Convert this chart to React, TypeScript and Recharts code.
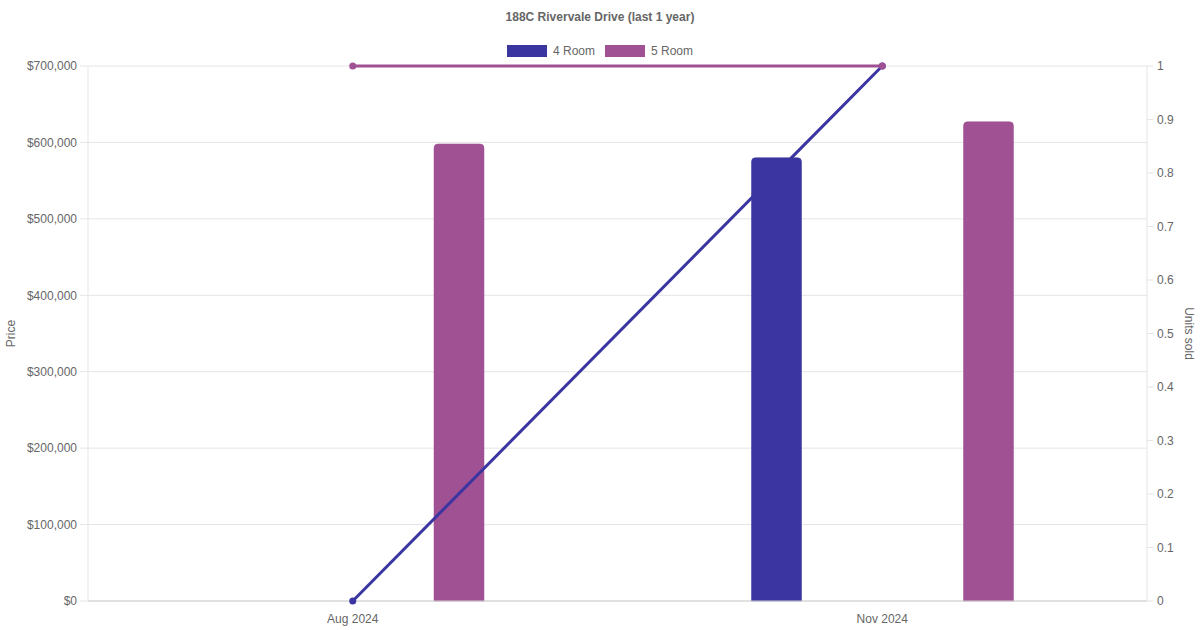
import {
  ComposedChart,
  Bar,
  Line,
  XAxis,
  YAxis,
  CartesianGrid,
} from 'recharts';

const FONT = '"Liberation Sans", Arial, Helvetica, sans-serif';
const TEXT = '#666666';

const months = ['Aug 2024', 'Nov 2024'];
const price4Room = [null, 580000];
const price5Room = [598000, 627000];
const units4Room = [0, 1];
const units5Room = [1, 1];

const priceTicks = [0, 100000, 200000, 300000, 400000, 500000, 600000, 700000];
const unitTicks = [0, 0.1, 0.2, 0.3, 0.4, 0.5, 0.6, 0.7, 0.8, 0.9, 1];

const SERIES = [
  { name: '4 Room', color: '#3a35a0' },
  { name: '5 Room', color: '#a05193' },
];

const data = months.map((month, i) => ({
  month,
  price4: price4Room[i],
  price5: price5Room[i],
  units4: units4Room[i],
  units5: units5Room[i],
}));

const formatPrice = (v: number) => '$' + v.toLocaleString('en-US');

export default function App() {
  return (
    <div style={{ position: 'absolute', left: 0, top: 0, width: 1200, height: 630, fontFamily: FONT, background: '#fff' }}>
      <div
        style={{
          position: 'absolute',
          top: 9,
          width: 1200,
          textAlign: 'center',
          fontSize: 12,
          fontWeight: 'bold',
          color: TEXT,
          lineHeight: '16px',
        }}
      >
        188C Rivervale Drive (last 1 year)
      </div>
      <div
        style={{
          position: 'absolute',
          top: 43,
          width: 1200,
          display: 'flex',
          justifyContent: 'center',
          fontSize: 12,
          color: TEXT,
          lineHeight: '16px',
        }}
      >
        {SERIES.map((s) => (
          <div key={s.name} style={{ display: 'flex', alignItems: 'center', margin: '0 5px' }}>
            <div style={{ width: 40, height: 12, background: s.color, marginRight: 6 }} />
            <span>{s.name}</span>
          </div>
        ))}
      </div>
      <ComposedChart
        width={1200}
        height={630}
        data={data}
        margin={{ top: 66, right: 0, bottom: 0, left: 0 }}
        barGap={162}
        style={{ fontFamily: FONT }}
      >
        <CartesianGrid vertical={false} stroke="#e5e5e5" yAxisId="price" />
        <XAxis
          dataKey="month"
          height={29}
          tickLine={false}
          tickSize={0}
          tickMargin={13}
          axisLine={{ stroke: '#cfcfcf' }}
          tick={{ fill: TEXT, fontSize: 12 }}
        />
        <YAxis
          yAxisId="price"
          orientation="left"
          width={88}
          domain={[0, 700000]}
          ticks={priceTicks}
          tickFormatter={formatPrice}
          tickSize={8}
          tickMargin={3}
          axisLine={{ stroke: '#e5e5e5' }}
          tickLine={{ stroke: '#e5e5e5' }}
          tick={{ fill: TEXT, fontSize: 12 }}
          label={{ value: 'Price', angle: -90, position: 'center', dx: -33, fill: TEXT, fontSize: 12 }}
        />
        <YAxis
          yAxisId="units"
          orientation="right"
          width={53}
          domain={[0, 1]}
          ticks={unitTicks}
          tickSize={6}
          tickMargin={4}
          axisLine={{ stroke: '#e5e5e5' }}
          tickLine={{ stroke: '#e5e5e5' }}
          tick={{ fill: TEXT, fontSize: 12 }}
          label={{ value: 'Units sold', angle: 90, position: 'center', dx: 16, fill: TEXT, fontSize: 12 }}
        />
        <Bar
          yAxisId="price"
          dataKey="price4"
          name="4 Room"
          fill={SERIES[0].color}
          stroke={SERIES[0].color}
          strokeOpacity={0.5}
          barSize={50}
          radius={[4, 4, 0, 0]}
          isAnimationActive={false}
        />
        <Bar
          yAxisId="price"
          dataKey="price5"
          name="5 Room"
          fill={SERIES[1].color}
          stroke={SERIES[1].color}
          strokeOpacity={0.5}
          barSize={50}
          radius={[4, 4, 0, 0]}
          isAnimationActive={false}
        />
        <Line
          yAxisId="units"
          type="linear"
          dataKey="units4"
          name="4 Room"
          stroke={SERIES[0].color}
          strokeWidth={3}
          dot={{ r: 3.5, fill: SERIES[0].color, stroke: 'none' }}
          activeDot={false}
          isAnimationActive={false}
        />
        <Line
          yAxisId="units"
          type="linear"
          dataKey="units5"
          name="5 Room"
          stroke={SERIES[1].color}
          strokeWidth={3}
          dot={{ r: 3.5, fill: SERIES[1].color, stroke: 'none' }}
          activeDot={false}
          isAnimationActive={false}
        />
      </ComposedChart>
    </div>
  );
}
